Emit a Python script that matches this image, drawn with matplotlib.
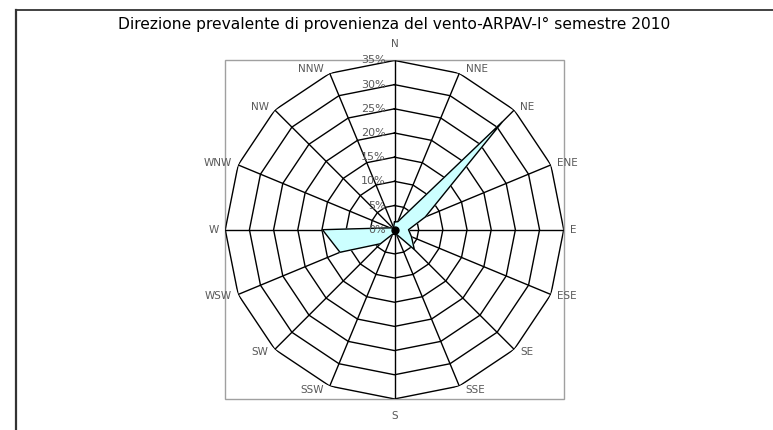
import matplotlib.pyplot as plt
import numpy as np

# direzioni e frequenze (%)
direzioni = ["N", "NNE", "NE", "ENE", "E", "ESE", "SE", "SSE",
             "S", "SSW", "SW", "WSW", "W", "WNW", "NW", "NNW"]
frequenze = [1.6, 1.8, 31.5, 6.9, 2.9, 3.8, 5.8, 1.0,
             1.0, 1.0, 4.1, 12.2, 14.9, 1.0, 0.5, 0.5]
livelli = [0, 5, 10, 15, 20, 25, 30, 35]
etichette_livelli = ["0%", "5%", "10%", "15%", "20%", "25%", "30%", "35%"]
titolo = "Direzione prevalente di provenienza del vento-ARPAV-I° semestre 2010"

W, H = 773, 430
fig = plt.figure(figsize=(W / 100, H / 100), dpi=100)

side = 338.5
cx, cy = 394.5, 229.7
ax = fig.add_axes([(cx - side / 2) / W, (H - cy - side / 2) / H, side / W, side / H],
                  projection="polar")
ax.set_theta_zero_location("N")
ax.set_theta_direction(-1)
ax.set_ylim(0, 35)
ax.set_axis_off()

theta = np.linspace(0, 2 * np.pi, len(direzioni), endpoint=False)
tc = np.append(theta, theta[0])

# griglia poligonale
for r in livelli[1:]:
    ax.plot(tc, [r] * len(tc), color="black", lw=1.0, zorder=2)
for t in theta:
    ax.plot([t, t], [0, 35], color="black", lw=1.0, zorder=2)

# dati
vals = np.append(frequenze, frequenze[0])
ax.fill(tc, vals, color="#ccffff", zorder=3)
ax.plot(tc, vals, color="black", lw=1.0, zorder=4)
ax.plot([0], [livelli[0]], "o", color="black", ms=5, zorder=5)

# etichette livelli
for r, lab in zip(livelli, etichette_livelli):
    ax.annotate(lab, xy=(0, r), xytext=(-6.5, 0), textcoords="offset points",
                ha="right", va="center", fontsize=8, color="#595959", zorder=6)

# etichette direzioni
for t, lab in zip(theta, direzioni):
    s, c = np.sin(t), np.cos(t)
    if abs(s) < 0.1:
        ha = "center"
        dx, dy = 0, 12 * np.sign(c)
    else:
        ha = "left" if s > 0 else "right"
        dx, dy = 4.5 * np.sign(s), 3 * c
    ax.annotate(lab, xy=(t, 35), xytext=(dx, dy), textcoords="offset points",
                ha=ha, va="center", fontsize=7.5, color="#595959",
                annotation_clip=False)

# riquadro area del grafico
ax.add_patch(plt.Rectangle((0, 0), 1, 1, transform=ax.transAxes, fill=False,
                           edgecolor="#a0a0a0", lw=1, clip_on=False))

# bordo esterno
fig.add_artist(plt.Line2D([15.7 / W, 1], [1 - 10 / H, 1 - 10 / H],
                          transform=fig.transFigure, color="#333333", lw=1.3))
fig.add_artist(plt.Line2D([15.7 / W, 15.7 / W], [0, 1 - 10 / H],
                          transform=fig.transFigure, color="#333333", lw=1.6))

fig.text(cx / W, 1 - 24 / H, titolo, ha="center", va="center",
         fontsize=11.2, color="black")

fig.savefig("out.png", dpi=100)
